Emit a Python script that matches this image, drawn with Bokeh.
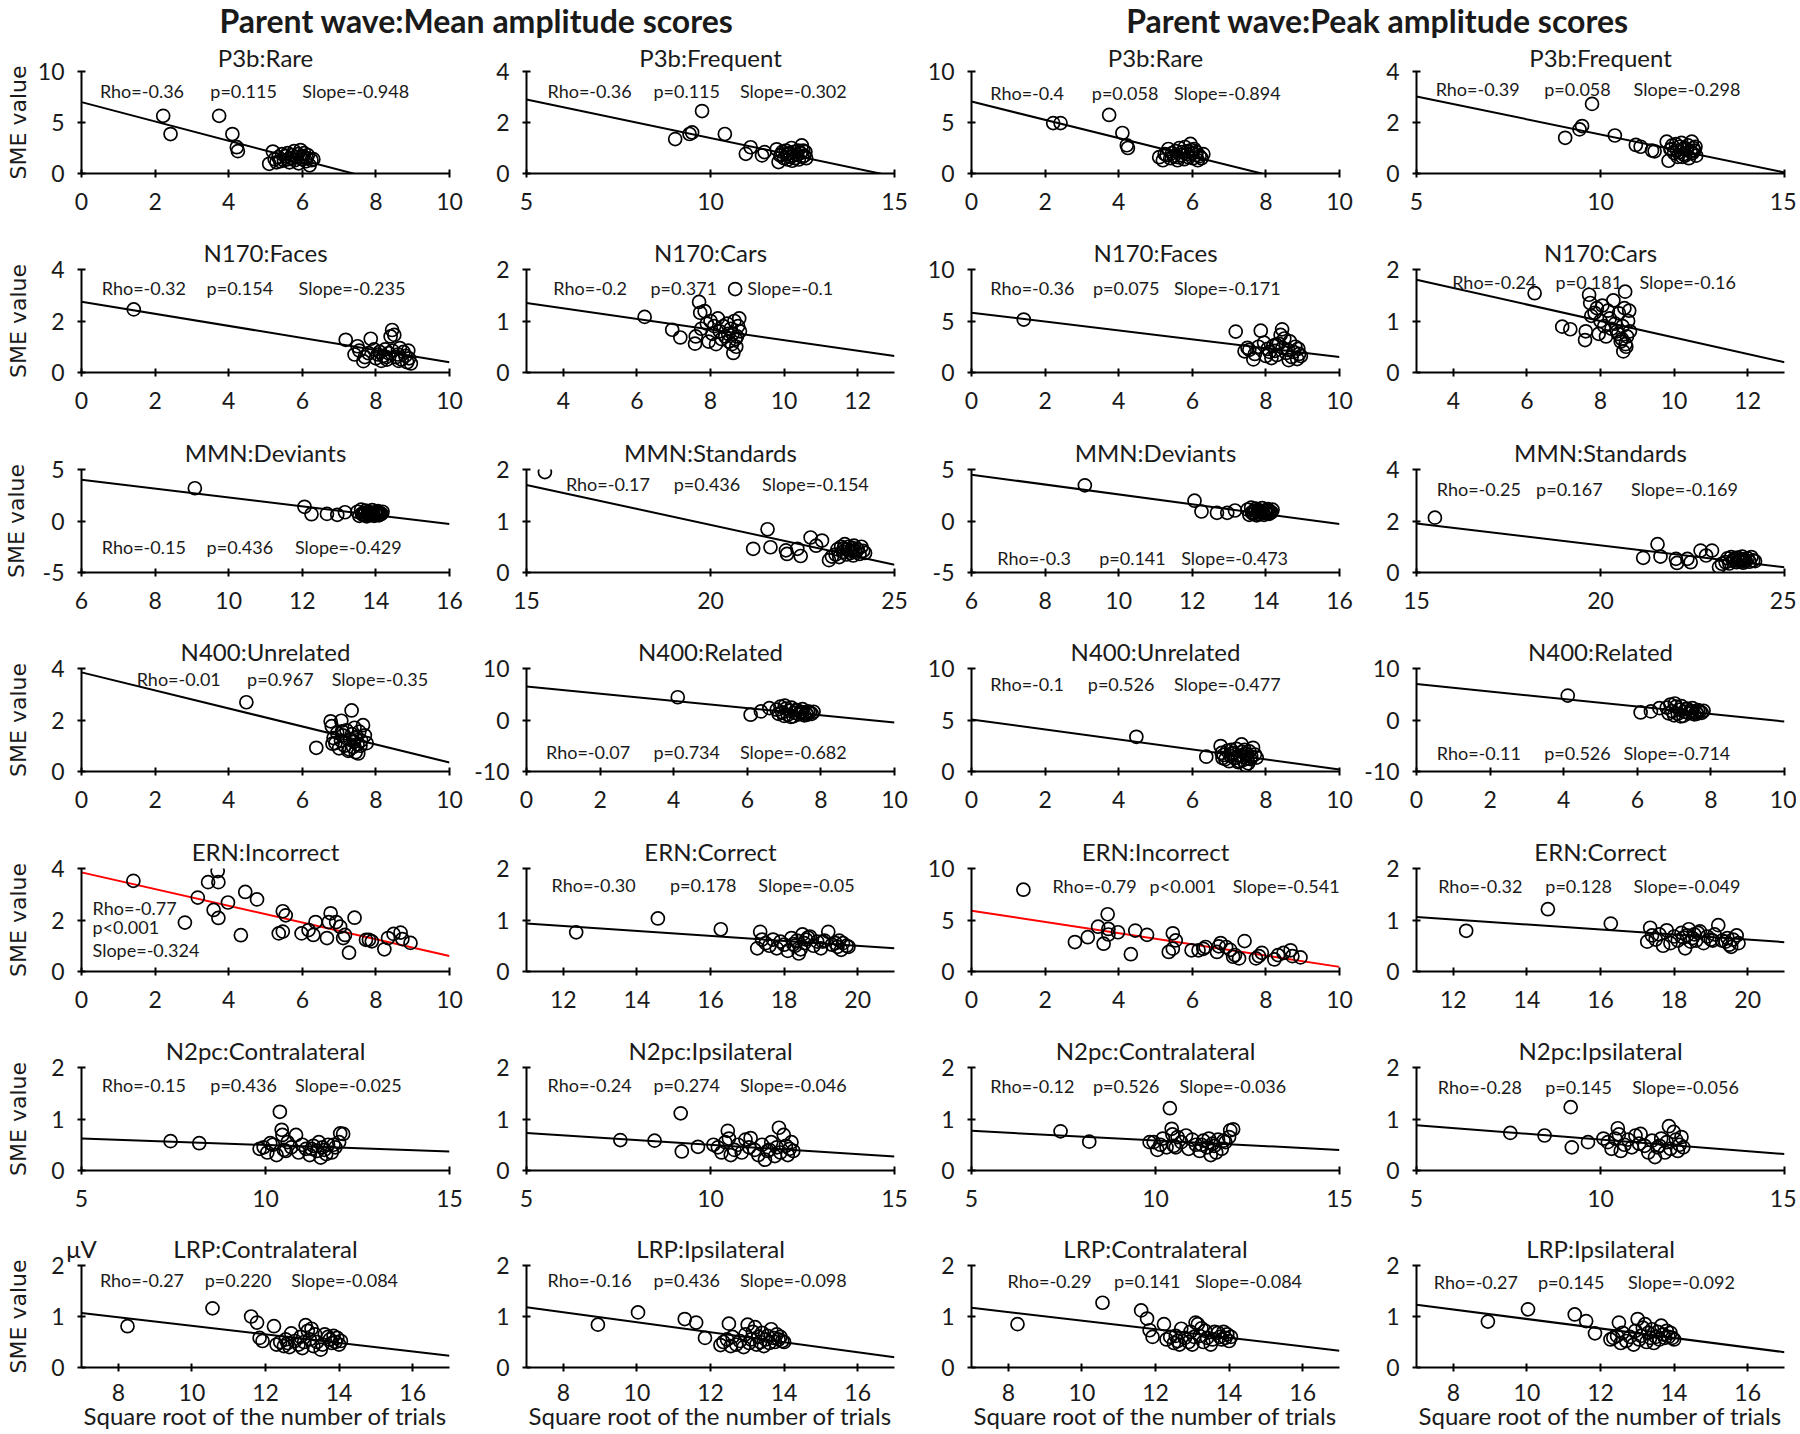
import math
from bokeh.plotting import figure
from bokeh.models import Range1d, FixedTicker, Label, LinearAxis
from bokeh.layouts import column, row
from bokeh.embed import file_html
from bokeh.resources import INLINE

# ---------------- data ----------------
CONDITIONS = ["P3b:Rare", "P3b:Frequent", "N170:Faces", "N170:Cars",
              "MMN:Deviants", "MMN:Standards", "N400:Unrelated", "N400:Related",
              "ERN:Incorrect", "ERN:Correct", "N2pc:Contralateral", "N2pc:Ipsilateral",
              "LRP:Contralateral", "LRP:Ipsilateral"]

P3B_RARE_SQRT_N = [2.22, 2.42, 3.74, 4.10, 4.22, 4.25, 5.10, 5.20, 5.25, 5.35, 5.40, 5.45, 5.50, 5.55, 5.60, 5.65,
                   5.70, 5.72, 5.78, 5.80, 5.85, 5.88, 5.90, 5.95, 6.00, 6.02, 6.05, 6.10, 6.12, 6.15, 6.20, 6.25,
                   6.30, 5.30, 5.62, 5.98]
P3B_RARE_SME_MEAN = [5.65, 3.87, 5.65, 3.87, 2.58, 2.19, 0.95, 2.15, 1.4, 1.6, 1.2, 1.9, 1.3, 1.7, 2.0, 1.1,
                     1.5, 1.8, 2.2, 1.3, 1.6, 1.9, 1.0, 2.3, 1.4, 1.7, 2.0, 1.2, 1.5, 1.8, 0.8, 1.3, 1.4, 1.1, 1.4, 1.6]
P3B_RARE_SME_PEAK = [4.94, 4.94, 5.74, 3.97, 2.77, 2.5, 1.6, 1.3, 1.9, 2.4, 1.5, 2.0, 1.7, 2.2, 1.3, 2.5,
                     1.8, 2.1, 1.4, 2.6, 1.9, 2.2, 1.6, 2.9, 2.0, 1.5, 2.4, 1.8, 2.1, 1.3, 1.7, 1.5, 1.9, 1.8, 1.6, 2.3]

P3B_FREQ_SQRT_N = [9.04, 9.43, 9.50, 9.77, 10.39, 10.96, 11.09, 11.40, 11.47, 11.80, 11.85, 11.90, 11.95, 12.00,
                   12.05, 12.08, 12.10, 12.15, 12.18, 12.20, 12.25, 12.28, 12.30, 12.35, 12.38, 12.40, 12.45,
                   12.48, 12.50, 12.55, 12.58, 12.60, 11.92, 12.22, 12.52]
P3B_FREQ_SME_MEAN = [1.35, 1.55, 1.61, 2.45, 1.55, 0.77, 1.03, 0.71, 0.84, 0.95, 0.45, 0.7, 0.85, 0.6, 0.9, 0.75,
                     0.55, 0.8, 0.65, 1.0, 0.7, 0.85, 0.6, 0.75, 0.9, 0.55, 0.8, 1.1, 0.65, 0.7, 0.85, 0.6, 0.75,
                     0.5, 0.9]
P3B_FREQ_SME_PEAK = [1.40, 1.73, 1.86, 2.73, 1.49, 1.12, 1.05, 0.90, 0.87, 1.25, 0.5, 0.95, 1.1, 0.8, 1.15, 0.9,
                     0.65, 1.05, 0.85, 1.2, 0.75, 1.0, 0.7, 0.95, 1.1, 0.6, 0.85, 1.25, 0.8, 0.9, 1.05, 0.7, 0.95,
                     0.65, 1.0]

N170_FACES_SQRT_N = [1.42, 7.18, 7.50, 7.86, 7.42, 7.66, 8.44, 8.40, 8.50, 7.55, 7.70, 7.80, 7.95, 8.00, 8.05,
                     8.10, 8.15, 8.20, 8.25, 8.30, 8.35, 8.45, 8.55, 8.60, 8.65, 8.70, 8.75, 8.80, 8.85, 8.90,
                     8.95, 8.88, 8.62, 8.28]
N170_FACES_SME_MEAN = [2.45, 1.27, 1.02, 1.31, 0.70, 0.44, 1.65, 1.40, 1.46, 0.85, 0.6, 0.75, 0.9, 0.55, 0.7, 0.8,
                       0.45, 0.65, 0.9, 0.5, 0.75, 0.85, 0.6, 0.7, 0.95, 0.5, 0.8, 0.65, 0.4, 0.55, 0.35, 0.85,
                       0.45, 0.6]
N170_FACES_SME_PEAK = [5.14, 3.97, 2.4, 4.06, 2.06, 1.27, 4.19, 3.65, 3.3, 2.2, 1.8, 2.5, 2.9, 1.6, 2.3, 2.0, 1.4,
                       2.6, 2.1, 1.7, 2.8, 2.4, 1.9, 2.2, 3.02, 1.5, 2.0, 2.5, 1.3, 1.8, 1.6, 2.3, 1.2, 2.7]

N170_CARS_SQRT_N = [6.21, 6.96, 7.18, 7.58, 7.69, 7.72, 7.84, 8.67, 8.62, 7.60, 7.75, 7.90, 7.95, 8.00, 8.05,
                    8.10, 8.15, 8.20, 8.25, 8.30, 8.35, 8.40, 8.45, 8.50, 8.55, 8.60, 8.65, 8.70, 8.72, 8.75,
                    8.78, 8.80, 8.68, 8.58, 8.48]
N170_CARS_SME_MEAN = [1.08, 0.83, 0.68, 0.56, 1.37, 1.16, 1.19, 1.62, 0.38, 0.7, 0.85, 0.95, 0.6, 1.0, 0.75, 0.9,
                      0.55, 1.05, 0.8, 0.65, 0.9, 0.7, 0.95, 0.6, 0.85, 0.75, 1.0, 0.5, 0.7, 0.9, 1.05, 0.8, 0.65,
                      0.55, 0.75]
N170_CARS_SME_PEAK = [1.54, 0.89, 0.84, 0.63, 1.51, 1.35, 1.16, 1.57, 0.41, 0.8, 1.1, 1.25, 0.75, 1.0, 1.3, 0.9,
                      0.7, 1.2, 1.05, 0.85, 1.4, 0.95, 0.8, 1.15, 0.6, 0.9, 1.25, 0.5, 0.7, 1.0, 1.2, 0.8, 0.55,
                      0.65, 0.75]

MMN_DEV_SQRT_N = [9.08, 12.06, 12.25, 12.67, 12.95, 13.16, 13.50, 13.55, 13.60, 13.62, 13.65, 13.70, 13.72, 13.75,
                  13.78, 13.80, 13.82, 13.85, 13.88, 13.90, 13.92, 13.95, 13.98, 14.00, 14.02, 14.05, 14.08, 14.10,
                  14.12, 14.15, 14.18, 13.68, 13.86, 14.06]
MMN_DEV_SME_MEAN = [3.18, 1.38, 0.66, 0.69, 0.6, 0.85, 0.9, 0.5, 1.1, 0.7, 0.6, 0.8, 1.0, 0.45, 0.75, 0.9, 0.55,
                    0.8, 0.65, 1.05, 0.7, 0.5, 0.85, 0.6, 0.75, 0.95, 0.55, 0.8, 0.65, 0.7, 0.9, 0.6, 0.75, 0.85]
MMN_DEV_SME_PEAK = [3.46, 1.97, 0.92, 0.79, 0.79, 1.02, 1.1, 0.6, 1.3, 0.85, 0.7, 1.0, 1.2, 0.55, 0.9, 1.05, 0.65,
                    0.95, 0.8, 1.25, 0.85, 0.6, 1.0, 0.75, 0.9, 1.15, 0.7, 0.95, 0.8, 0.85, 1.1, 0.75, 0.9, 1.0]

MMN_STD_SQRT_N = [15.5, 21.16, 21.55, 21.63, 22.05, 22.08, 22.36, 22.45, 22.72, 22.87, 23.03, 23.22, 23.30, 23.40,
                  23.45, 23.50, 23.55, 23.60, 23.65, 23.70, 23.72, 23.75, 23.80, 23.82, 23.85, 23.88, 23.90, 23.95,
                  24.00, 24.05, 24.10, 24.15, 24.20, 23.62, 23.92]
MMN_STD_SME_MEAN = [1.95, 0.46, 0.84, 0.49, 0.43, 0.36, 0.46, 0.32, 0.68, 0.52, 0.62, 0.24, 0.31, 0.35, 0.45, 0.3,
                    0.5, 0.4, 0.55, 0.35, 0.45, 0.5, 0.38, 0.42, 0.48, 0.33, 0.52, 0.4, 0.45, 0.36, 0.5, 0.42,
                    0.38, 0.47, 0.43]
MMN_STD_SME_PEAK = [2.13, 0.57, 1.1, 0.62, 0.53, 0.37, 0.53, 0.4, 0.85, 0.66, 0.85, 0.21, 0.34, 0.4, 0.55, 0.35,
                    0.6, 0.45, 0.5, 0.4, 0.58, 0.48, 0.42, 0.52, 0.62, 0.38, 0.5, 0.45, 0.55, 0.42, 0.6, 0.47,
                    0.44, 0.52, 0.5]

N400_UNREL_SQRT_N = [4.48, 6.38, 6.77, 6.80, 6.82, 7.06, 7.34, 7.08, 6.85, 6.90, 6.95, 7.00, 7.05, 7.10, 7.15,
                     7.20, 7.25, 7.30, 7.35, 7.38, 7.40, 7.42, 7.45, 7.48, 7.50, 7.52, 7.55, 7.60, 7.65, 7.70,
                     7.75, 7.28, 7.44, 7.58]
N400_UNREL_SME_MEAN = [2.69, 0.92, 1.95, 1.76, 1.08, 1.97, 2.37, 1.56, 1.3, 1.1, 1.5, 0.9, 1.2, 1.4, 1.0, 1.6, 0.8,
                       1.25, 1.45, 0.95, 1.15, 1.7, 0.75, 1.35, 1.05, 0.7, 1.55, 1.2, 1.8, 1.4, 1.1, 0.85, 1.3, 1.0]
N400_UNREL_SME_PEAK = [3.37, 1.44, 2.47, 1.8, 1.3, 2.1, 2.63, 1.7, 1.6, 1.2, 2.0, 1.0, 1.5, 1.8, 1.3, 2.2, 0.9,
                       1.55, 1.9, 1.1, 1.4, 2.1, 0.6, 1.7, 1.25, 0.8, 1.95, 1.45, 2.3, 1.65, 1.35, 1.0, 1.75, 1.2]

N400_REL_SQRT_N = [4.11, 6.09, 6.37, 6.60, 6.80, 6.85, 6.90, 6.95, 7.00, 7.05, 7.10, 7.15, 7.20, 7.25, 7.30, 7.35,
                   7.40, 7.45, 7.50, 7.55, 7.60, 7.65, 7.70, 7.75, 7.80, 7.02, 7.18, 7.32, 7.48, 7.62]
N400_REL_SME_MEAN = [4.42, 1.03, 1.67, 2.3, 2.0, 1.2, 2.6, 1.5, 0.8, 2.2, 1.0, 1.8, 2.4, 0.7, 1.4, 1.9, 1.1, 1.6,
                     2.1, 0.9, 1.3, 1.7, 1.5, 1.2, 1.6, 2.8, 0.6, 1.9, 1.4, 1.0]
N400_REL_SME_PEAK = [4.74, 1.47, 1.67, 2.3, 2.4, 1.3, 3.0, 1.7, 0.9, 2.6, 1.2, 2.0, 2.7, 0.8, 1.6, 2.2, 1.3, 1.8,
                     2.3, 1.1, 1.5, 1.9, 1.7, 1.4, 1.8, 3.2, 0.7, 2.1, 1.6, 1.2]

ERN_INC_SQRT_N = [1.41, 3.16, 2.81, 3.44, 3.70, 3.72, 3.59, 3.72, 3.98, 4.33, 4.45, 4.77, 5.47, 5.55, 5.36, 5.47,
                  5.98, 6.17, 6.36, 6.30, 6.77, 6.72, 6.67, 6.92, 7.03, 7.11, 7.16, 7.27, 7.42, 7.73, 7.89, 7.81,
                  8.23, 8.33, 8.48, 8.67, 8.72, 8.94]
ERN_INC_SME_MEAN = [3.52, 2.87, 1.90, 3.47, 3.90, 3.47, 2.39, 2.08, 2.68, 1.41, 3.09, 2.80, 2.34, 2.18, 1.48, 1.55,
                    1.48, 1.61, 1.92, 1.42, 2.26, 1.92, 1.30, 1.92, 1.74, 1.30, 1.42, 0.73, 2.09, 1.23, 1.17, 1.23,
                    0.86, 1.30, 1.46, 1.51, 1.26, 1.11]
ERN_INC_SME_PEAK = [7.94, 3.33, 2.86, 4.35, 5.56, 4.13, 2.70, 3.59, 3.81, 1.68, 3.97, 3.56, 2.22, 3.02, 1.90, 3.71,
                    2.06, 2.06, 2.38, 2.2, 2.76, 2.44, 1.90, 2.38, 2.1, 1.43, 1.6, 1.27, 2.95, 1.27, 1.81, 1.5,
                    1.17, 1.59, 1.8, 2.06, 1.49, 1.37]

ERN_COR_SQRT_N = [12.35, 14.57, 16.28, 17.27, 17.35, 17.40, 17.50, 17.60, 17.70, 17.80, 17.90, 18.00, 18.10, 18.20,
                  18.30, 18.35, 18.40, 18.45, 18.50, 18.55, 18.60, 18.70, 18.80, 18.90, 19.00, 19.10, 19.20, 19.30,
                  19.40, 19.45, 19.50, 19.55, 19.60, 19.70, 19.75, 18.25, 18.65, 19.05]
ERN_COR_SME_MEAN = [0.76, 1.03, 0.82, 0.45, 0.77, 0.62, 0.55, 0.5, 0.62, 0.45, 0.58, 0.52, 0.4, 0.65, 0.5, 0.6,
                    0.35, 0.43, 0.72, 0.55, 0.62, 0.68, 0.5, 0.58, 0.45, 0.6, 0.77, 0.52, 0.55, 0.48, 0.6, 0.42,
                    0.55, 0.5, 0.48, 0.53, 0.66, 0.58]
ERN_COR_SME_PEAK = [0.79, 1.21, 0.93, 0.58, 0.85, 0.7, 0.62, 0.72, 0.5, 0.8, 0.55, 0.68, 0.6, 0.75, 0.45, 0.7,
                    0.82, 0.58, 0.65, 0.72, 0.6, 0.78, 0.55, 0.68, 0.62, 0.72, 0.9, 0.6, 0.58, 0.65, 0.52, 0.48,
                    0.62, 0.7, 0.55, 0.66, 0.75, 0.6]

N2PC_CONTRA_SQRT_N = [7.42, 8.20, 10.39, 10.44, 10.46, 10.83, 9.84, 10.13, 12.03, 12.11, 9.95, 10.05, 10.20, 10.30,
                      10.50, 10.60, 10.70, 10.90, 11.00, 11.10, 11.20, 11.30, 11.40, 11.45, 11.50, 11.55, 11.60,
                      11.70, 11.80, 11.90, 12.00, 10.55, 11.25, 11.65, 11.85]
N2PC_CONTRA_SME_MEAN = [0.57, 0.53, 1.14, 0.79, 0.69, 0.69, 0.42, 0.53, 0.72, 0.71, 0.45, 0.35, 0.5, 0.3, 0.4,
                        0.55, 0.45, 0.35, 0.5, 0.42, 0.3, 0.48, 0.38, 0.55, 0.25, 0.45, 0.4, 0.5, 0.35, 0.45, 0.55,
                        0.38, 0.42, 0.32, 0.5]
N2PC_CONTRA_SME_PEAK = [0.76, 0.56, 1.21, 0.81, 0.7, 0.68, 0.55, 0.5, 0.78, 0.8, 0.55, 0.4, 0.62, 0.45, 0.48, 0.65,
                        0.55, 0.42, 0.6, 0.5, 0.38, 0.58, 0.45, 0.62, 0.3, 0.52, 0.48, 0.6, 0.42, 0.55, 0.65, 0.45,
                        0.5, 0.35, 0.58]

N2PC_IPSI_SQRT_N = [7.55, 8.48, 9.19, 9.22, 9.66, 10.08, 10.47, 11.09, 11.48, 11.86, 11.99, 10.20, 10.30, 10.40,
                    10.55, 10.65, 10.75, 10.85, 10.95, 11.05, 11.20, 11.30, 11.40, 11.55, 11.65, 11.75, 11.80,
                    11.90, 12.05, 12.10, 12.15, 12.20, 12.25, 10.50, 11.60]
N2PC_IPSI_SME_MEAN = [0.59, 0.58, 1.11, 0.37, 0.46, 0.5, 0.77, 0.63, 0.21, 0.83, 0.69, 0.45, 0.35, 0.55, 0.3, 0.4,
                      0.5, 0.35, 0.6, 0.45, 0.4, 0.3, 0.5, 0.38, 0.55, 0.28, 0.45, 0.35, 0.48, 0.3, 0.42, 0.55,
                      0.38, 0.62, 0.4]
N2PC_IPSI_SME_PEAK = [0.73, 0.68, 1.23, 0.45, 0.55, 0.62, 0.82, 0.71, 0.26, 0.86, 0.75, 0.55, 0.42, 0.62, 0.38,
                      0.5, 0.6, 0.45, 0.68, 0.52, 0.48, 0.35, 0.58, 0.45, 0.62, 0.35, 0.55, 0.42, 0.6, 0.38, 0.5,
                      0.65, 0.45, 0.7, 0.48]

LRP_CONTRA_SQRT_N = [8.25, 10.56, 11.61, 11.77, 11.84, 11.92, 12.23, 12.70, 13.09, 13.25, 13.61, 12.30, 12.40,
                     12.50, 12.55, 12.60, 12.65, 12.80, 12.90, 12.95, 13.00, 13.05, 13.15, 13.20, 13.30, 13.35,
                     13.40, 13.50, 13.55, 13.70, 13.75, 13.80, 13.85, 13.90, 13.95, 14.00, 14.05]
LRP_CONTRA_SME_MEAN = [0.81, 1.16, 1.0, 0.88, 0.58, 0.52, 0.81, 0.67, 0.83, 0.76, 0.65, 0.45, 0.5, 0.42, 0.55,
                       0.48, 0.4, 0.52, 0.45, 0.6, 0.38, 0.5, 0.72, 0.55, 0.42, 0.65, 0.5, 0.35, 0.45, 0.6, 0.55,
                       0.48, 0.62, 0.5, 0.58, 0.45, 0.52]
LRP_CONTRA_SME_PEAK = [0.85, 1.27, 1.12, 0.96, 0.73, 0.6, 0.85, 0.76, 0.88, 0.77, 0.7, 0.55, 0.6, 0.48, 0.62,
                       0.52, 0.45, 0.58, 0.5, 0.7, 0.45, 0.6, 0.85, 0.62, 0.5, 0.72, 0.58, 0.45, 0.55, 0.68, 0.6,
                       0.55, 0.7, 0.58, 0.65, 0.52, 0.6]

LRP_IPSI_SQRT_N = [8.94, 10.03, 11.30, 11.61, 11.85, 12.27, 12.50, 13.01, 13.21, 12.35, 12.45, 12.55, 12.60, 12.70,
                   12.80, 12.90, 12.95, 13.05, 13.10, 13.15, 13.25, 13.30, 13.35, 13.40, 13.45, 13.50, 13.55,
                   13.60, 13.65, 13.70, 13.75, 13.80, 13.85, 13.90, 13.95, 14.00]
LRP_IPSI_SME_MEAN = [0.84, 1.08, 0.95, 0.88, 0.58, 0.44, 0.86, 0.84, 0.79, 0.5, 0.55, 0.42, 0.6, 0.45, 0.52, 0.4,
                     0.65, 0.48, 0.55, 0.7, 0.45, 0.6, 0.5, 0.68, 0.42, 0.55, 0.62, 0.48, 0.75, 0.58, 0.5, 0.65,
                     0.55, 0.6, 0.52, 0.5]
LRP_IPSI_SME_PEAK = [0.9, 1.14, 1.04, 0.91, 0.67, 0.55, 0.88, 0.95, 0.85, 0.58, 0.62, 0.48, 0.68, 0.52, 0.6, 0.45,
                     0.72, 0.55, 0.62, 0.78, 0.5, 0.68, 0.58, 0.75, 0.48, 0.6, 0.7, 0.55, 0.82, 0.65, 0.58, 0.72,
                     0.6, 0.68, 0.58, 0.55]

# statistics printed in each panel (condition order as CONDITIONS)
MEAN_RHO = ["-0.36", "-0.36", "-0.32", "-0.2", "-0.15", "-0.17", "-0.01", "-0.07", "-0.77", "-0.30", "-0.15",
            "-0.24", "-0.27", "-0.16"]
MEAN_P = ["=0.115", "=0.115", "=0.154", "=0.371", "=0.436", "=0.436", "=0.967", "=0.734", "<0.001", "=0.178",
          "=0.436", "=0.274", "=0.220", "=0.436"]
MEAN_SLOPE = ["-0.948", "-0.302", "-0.235", "-0.1", "-0.429", "-0.154", "-0.35", "-0.682", "-0.324", "-0.05",
              "-0.025", "-0.046", "-0.084", "-0.098"]
PEAK_RHO = ["-0.4", "-0.39", "-0.36", "-0.24", "-0.3", "-0.25", "-0.1", "-0.11", "-0.79", "-0.32", "-0.12",
            "-0.28", "-0.29", "-0.27"]
PEAK_P = ["=0.058", "=0.058", "=0.075", "=0.181", "=0.141", "=0.167", "=0.526", "=0.526", "<0.001", "=0.128",
          "=0.526", "=0.145", "=0.141", "=0.145"]
PEAK_SLOPE = ["-0.894", "-0.298", "-0.171", "-0.16", "-0.473", "-0.169", "-0.477", "-0.714", "-0.541", "-0.049",
              "-0.036", "-0.056", "-0.084", "-0.092"]

# fitted regression line: value at the start and at the end of the x range
MEAN_FIT_START = [7.0, 2.9, 2.75, 1.35, 4.0, 1.7, 3.85, 6.5, 3.85, 0.93, 0.62, 0.73, 1.07, 1.18]
MEAN_FIT_END = [-2.48, -0.12, 0.4, 0.32, -0.3, 0.15, 0.35, -0.5, 0.6, 0.45, 0.37, 0.27, 0.23, 0.2]
PEAK_FIT_START = [7.05, 3.02, 5.8, 1.8, 4.5, 1.9, 5.05, 7.0, 5.9, 1.06, 0.77, 0.88, 1.17, 1.23]
PEAK_FIT_END = [-1.89, 0.04, 1.5, 0.2, -0.3, 0.2, 0.2, -0.3, 0.45, 0.57, 0.40, 0.32, 0.33, 0.3]

# axes
X_RANGE = [(0, 10), (5, 15), (0, 10), (3, 13), (6, 16), (15, 25), (0, 10), (0, 10), (0, 10), (11, 21),
           (5, 15), (5, 15), (7, 17), (7, 17)]
X_TICKS = [[0, 2, 4, 6, 8, 10], [5, 10, 15], [0, 2, 4, 6, 8, 10], [4, 6, 8, 10, 12], [6, 8, 10, 12, 14, 16],
           [15, 20, 25], [0, 2, 4, 6, 8, 10], [0, 2, 4, 6, 8, 10], [0, 2, 4, 6, 8, 10], [12, 14, 16, 18, 20],
           [5, 10, 15], [5, 10, 15], [8, 10, 12, 14, 16], [8, 10, 12, 14, 16]]
MEAN_Y_RANGE = [(0, 10), (0, 4), (0, 4), (0, 2), (-5, 5), (0, 2), (0, 4), (-10, 10), (0, 4), (0, 2), (0, 2),
                (0, 2), (0, 2), (0, 2)]
PEAK_Y_RANGE = [(0, 10), (0, 4), (0, 10), (0, 2), (-5, 5), (0, 4), (0, 10), (-10, 10), (0, 10), (0, 2), (0, 2),
                (0, 2), (0, 2), (0, 2)]

SQRT_N = [P3B_RARE_SQRT_N, P3B_FREQ_SQRT_N, N170_FACES_SQRT_N, N170_CARS_SQRT_N, MMN_DEV_SQRT_N, MMN_STD_SQRT_N,
          N400_UNREL_SQRT_N, N400_REL_SQRT_N, ERN_INC_SQRT_N, ERN_COR_SQRT_N, N2PC_CONTRA_SQRT_N,
          N2PC_IPSI_SQRT_N, LRP_CONTRA_SQRT_N, LRP_IPSI_SQRT_N]
SME_MEAN = [P3B_RARE_SME_MEAN, P3B_FREQ_SME_MEAN, N170_FACES_SME_MEAN, N170_CARS_SME_MEAN, MMN_DEV_SME_MEAN,
            MMN_STD_SME_MEAN, N400_UNREL_SME_MEAN, N400_REL_SME_MEAN, ERN_INC_SME_MEAN, ERN_COR_SME_MEAN,
            N2PC_CONTRA_SME_MEAN, N2PC_IPSI_SME_MEAN, LRP_CONTRA_SME_MEAN, LRP_IPSI_SME_MEAN]
SME_PEAK = [P3B_RARE_SME_PEAK, P3B_FREQ_SME_PEAK, N170_FACES_SME_PEAK, N170_CARS_SME_PEAK, MMN_DEV_SME_PEAK,
            MMN_STD_SME_PEAK, N400_UNREL_SME_PEAK, N400_REL_SME_PEAK, ERN_INC_SME_PEAK, ERN_COR_SME_PEAK,
            N2PC_CONTRA_SME_PEAK, N2PC_IPSI_SME_PEAK, LRP_CONTRA_SME_PEAK, LRP_IPSI_SME_PEAK]

for nm, xs, ym, yp in zip(CONDITIONS, SQRT_N, SME_MEAN, SME_PEAK):
    if not (len(xs) == len(ym) == len(yp)):
        raise ValueError(f"length mismatch {nm}: {len(xs)} {len(ym)} {len(yp)}")

# ---------------- layout / style ----------------
FONT = "Lato"
INK = "#1a1a1a"
WIDTHS = [466, 445, 445, 440]
LEFTB = [81, 60, 60, 60]
RIGHTB = [17, 17, 17, 12]
TITLE_H = 39
HEIGHTS = [184, 199, 200, 199, 200, 197, 214]
TOPB = [31, 46, 47, 46, 47, 46, 47]
BOTB = [50, 50, 50, 50, 50, 48, 64]
FRAME_W, FRAME_H = 368, 103
TITLE_STANDOFF = [0, 3, 3, 3, 3, 3, 3]
# extra standoff of the "SME value" label so it lines up whatever the tick-label width
SME_LABEL_STANDOFF = [4, 17, 11, 17, 17, 17, 17]

# stats text positions (fraction of frame) per (row, col): x starts of the 3 texts, y centre
STAT_POS = {
    (0, 0): ([0.05, 0.35, 0.60], 0.81), (0, 1): ([0.057, 0.345, 0.58], 0.81),
    (0, 2): ([0.051, 0.327, 0.55], 0.79), (0, 3): ([0.052, 0.347, 0.59], 0.83),
    (1, 0): ([0.055, 0.34, 0.59], 0.82), (1, 1): ([0.073, 0.337, 0.60], 0.82),
    (1, 2): ([0.051, 0.33, 0.55], 0.82), (1, 3): ([0.097, 0.378, 0.606], 0.88),
    (2, 0): ([0.055, 0.34, 0.58], 0.25), (2, 1): ([0.107, 0.40, 0.64], 0.86),
    (2, 2): ([0.07, 0.347, 0.57], 0.14), (2, 3): ([0.055, 0.325, 0.583], 0.81),
    (3, 0): ([0.15, 0.45, 0.68], 0.90), (3, 1): ([0.053, 0.345, 0.58], 0.19),
    (3, 2): ([0.051, 0.316, 0.55], 0.85), (3, 3): ([0.055, 0.347, 0.5625], 0.18),
    (4, 1): ([0.068, 0.39, 0.63], 0.84),
    (4, 2): ([0.22, 0.484, 0.71], 0.83), (4, 3): ([0.059, 0.35, 0.59], 0.83),
    (5, 0): ([0.055, 0.35, 0.58], 0.83), (5, 1): ([0.057, 0.345, 0.58], 0.83),
    (5, 2): ([0.051, 0.33, 0.565], 0.82), (5, 3): ([0.058, 0.35, 0.586], 0.81),
    (6, 0): ([0.05, 0.335, 0.57], 0.86), (6, 1): ([0.057, 0.345, 0.58], 0.86),
    (6, 2): ([0.098, 0.387, 0.608], 0.85), (6, 3): ([0.047, 0.33, 0.575], 0.84),
}


def lab(p, x, y, text, size, align="left", baseline="middle", style="normal"):
    p.add_layout(Label(x=x, y=y, text=text, text_font=FONT, text_font_size=size, text_color=INK,
                       text_align=align, text_baseline=baseline, text_font_style=style))


def make_panel(r, c):
    cond = 2 * r + (c % 2)
    peak = c >= 2
    x0, x1 = X_RANGE[cond]
    y0, y1 = (PEAK_Y_RANGE if peak else MEAN_Y_RANGE)[cond]
    xs = SQRT_N[cond]
    ys = (SME_PEAK if peak else SME_MEAN)[cond]
    fs = (PEAK_FIT_START if peak else MEAN_FIT_START)[cond]
    fe = (PEAK_FIT_END if peak else MEAN_FIT_END)[cond]
    rho = (PEAK_RHO if peak else MEAN_RHO)[cond]
    pv = (PEAK_P if peak else MEAN_P)[cond]
    sl = (PEAK_SLOPE if peak else MEAN_SLOPE)[cond]

    p = figure(width=WIDTHS[c], height=HEIGHTS[r], x_range=Range1d(x0, x1), y_range=Range1d(y0, y1),
               output_backend="svg", toolbar_location=None,
               min_border_left=LEFTB[c], min_border_right=RIGHTB[c],
               min_border_top=TOPB[r], min_border_bottom=BOTB[r])
    p.outline_line_color = None
    p.xgrid.grid_line_color = None
    p.ygrid.grid_line_color = None
    bx = p.xaxis[0]
    by = p.yaxis[0]
    bx.ticker = FixedTicker(ticks=X_TICKS[cond])
    ymid = int((y0 + y1) / 2)
    by.ticker = FixedTicker(ticks=[y0, ymid, y1])
    by.major_label_overrides = {t: str(t) for t in (y0, ymid, y1)}
    for ax in (bx, by):
        ax.axis_line_width = 2
        ax.axis_line_color = "black"
        ax.major_tick_line_width = 2
        ax.major_tick_line_color = "black"
        ax.major_tick_in = 4
        ax.major_tick_out = 4
        ax.minor_tick_line_color = None
        ax.major_label_text_font = FONT
        ax.major_label_text_font_size = "23px"
        ax.major_label_text_color = INK
    bx.major_label_standoff = 15
    by.major_label_standoff = 13

    if c == 0:
        by.axis_label = "SME value"
        by.axis_label_text_font = "DejaVu Sans"
        by.axis_label_text_font_size = "22px"
        by.axis_label_text_font_style = "normal"
        by.axis_label_text_color = INK
        by.axis_label_standoff = SME_LABEL_STANDOFF[r]
    if r == 6:
        bx.major_label_standoff = 12
        bx.axis_label = "Square root of the number of trials"
        bx.axis_label_text_font = FONT
        bx.axis_label_text_font_size = "24px"
        bx.axis_label_text_font_style = "normal"
        bx.axis_label_text_color = INK
        bx.axis_label_standoff = -3

    # panel title carried by a bare axis above the frame
    xc = int((x0 + x1) / 2)
    ticks = [xc]
    over = {xc: CONDITIONS[cond]}
    if r == 6 and c == 0:
        ticks = [x0, xc]
        over[x0] = "μV"
    top = LinearAxis(ticker=FixedTicker(ticks=ticks), major_label_overrides=over,
                     axis_line_color=None, major_tick_line_color=None, minor_tick_line_color=None,
                     major_tick_in=0, major_tick_out=0, major_label_standoff=TITLE_STANDOFF[r],
                     major_label_text_font=FONT, major_label_text_font_size="24px",
                     major_label_text_color=INK)
    p.add_layout(top, "above")

    def px_x(d):
        return x0 + d / FRAME_W * (x1 - x0)

    def px_y(d):
        return y0 + d / FRAME_H * (y1 - y0)

    red = cond == 8
    p.line([x0, x1], [fs, fe], line_width=2, line_color="#ff0000" if red else "black")
    p.scatter(xs, ys, marker="circle", size=13, fill_color=None, line_color="black", line_width=1.7)

    texts = ["Rho=" + rho, "p" + pv, "Slope=" + sl]
    if (r, c) == (4, 0):
        for t, yy in zip(texts, [0.62, 0.43, 0.21]):
            lab(p, px_x(0.03 * FRAME_W), px_y(yy * FRAME_H), t, "18px")
    else:
        fxs, fy = STAT_POS[(r, c)]
        for t, fx in zip(texts, fxs):
            lab(p, px_x(fx * FRAME_W), px_y(fy * FRAME_H), t, "18px")
    return p


TOTAL_W = sum(WIDTHS)
title_fig = figure(width=TOTAL_W, height=TITLE_H, x_range=Range1d(0, TOTAL_W), y_range=Range1d(0, TITLE_H),
                   output_backend="svg", toolbar_location=None, min_border=0,
                   x_axis_location=None, y_axis_location=None)
title_fig.outline_line_color = None
title_fig.xgrid.grid_line_color = None
title_fig.ygrid.grid_line_color = None
lab(title_fig, 476, TITLE_H / 2, "Parent wave:Mean amplitude scores", "32px", align="center", style="bold")
lab(title_fig, 1377, TITLE_H / 2, "Parent wave:Peak amplitude scores", "32px", align="center", style="bold")

rows = [title_fig]
for r in range(7):
    rows.append(row(*[make_panel(r, c) for c in range(4)]))
layout = column(*rows)

open("out.html", "w").write(file_html(layout, INLINE, "SME vs trials"))
